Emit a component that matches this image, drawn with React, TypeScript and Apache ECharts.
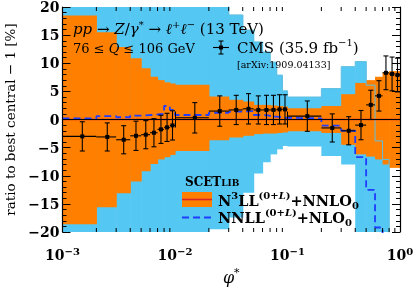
import React, { useEffect, useRef } from "react";
import * as echarts from "echarts";

// ---- data ----
const binEdges = [0.001, 0.002, 0.003, 0.004, 0.005, 0.006, 0.007, 0.008, 0.009, 0.01, 0.02, 0.03, 0.04, 0.05, 0.06, 0.07, 0.08, 0.09, 0.1, 0.2, 0.3, 0.4, 0.5, 0.6, 0.7, 0.8, 0.9, 1.0];
const cmsPhi = [0.0015, 0.0025, 0.0035, 0.0045, 0.0055, 0.0065, 0.0075, 0.0085, 0.0095, 0.015, 0.025, 0.035, 0.045, 0.055, 0.065, 0.075, 0.085, 0.095, 0.15, 0.25, 0.35, 0.45, 0.55, 0.65, 0.75, 0.85, 0.95];
const cmsRatio = [-3.0, -3.1, -3.6, -2.9, -2.7, -2.35, -1.75, -1.4, -1.05, 0.3, 1.5, 1.7, 1.9, 1.7, 1.7, 1.7, 1.8, 1.8, 0.6, -1.5, -2.0, -1.0, 2.6, 4.2, 8.3, 8.1, 7.9];
const cmsErr = [2.6, 2.5, 2.5, 2.6, 2.5, 2.5, 2.5, 2.5, 2.6, 2.7, 2.7, 2.6, 2.7, 2.5, 2.6, 2.6, 2.6, 2.6, 2.7, 2.5, 2.5, 2.6, 2.6, 2.7, 3.0, 3.0, 3.0];
const n3llHigh = [18.5, 15.5, 12.9, 10.9, 9.1, 7.6, 7.0, 6.6, 6.4, 6.2, 4.1, 3.5, 3.2, 2.6, 2.6, 2.5, 2.4, 2.3, 2.0, 2.4, 4.5, 6.5, 7.0, 7.6, 8.4, 8.6, 8.6];
const n3llLow = [-18.6, -15.6, -13.1, -11.0, -9.2, -7.9, -7.1, -6.7, -6.3, -5.6, -3.7, -3.2, -2.9, -2.6, -2.5, -2.5, -2.4, -2.3, -2.1, -2.4, -4.5, -6.2, -6.6, -7.1, -8.0, -8.6, -8.6];
const nnllHigh = [25, 25, 25, 25, 25, 25, 25, 25, 25, 25, 25, 18.6, 15.9, 13.8, 12.0, 10.2, 7.9, 5.1, 4.0, 5.5, 9.4, 10.3, 6.1, -3.8, -7.1, -30, -30];
const nnllLow = [-25, -25, -25, -25, -25, -25, -25, -25, -25, -25, -19.5, -17.4, -13.0, -9.6, -7.6, -6.2, -5.3, -4.7, -4.8, -6.5, -8.0, -25, -25, -25, -25, -40, -40];
const nnllCentral = [0.2, 0.6, 0.4, 0.7, 0.8, 0.9, 1.0, 2.4, 1.7, 0.8, 1.2, 1.4, 1.5, 0.8, 0.7, 0.5, 0.4, 0.3, 0.2, -1.1, -2.0, -6.7, -12.5, -19.2, -25, -25, -25];
const n3llCentral = [0, 0, 0, 0, 0, 0, 0, 0, 0, 0, 0, 0, 0, 0, 0, 0, 0, 0, 0, 0, 0, 0, 0, 0, 0, 0, 0];
const xMinorTicks = [0.002, 0.003, 0.004, 0.005, 0.006, 0.007, 0.008, 0.009, 0.02, 0.03, 0.04, 0.05, 0.06, 0.07, 0.08, 0.09, 0.2, 0.3, 0.4, 0.5, 0.6, 0.7, 0.8, 0.9];

const ORANGE = "#ff8000";
const SKY = "#55c7f3";
const RED = "#d62728";
const BLUE = "#1f3cff";
const serif = "'DejaVu Serif', serif";

function stepData(values: number[]) {
  return binEdges.map((e, i) => [e, values[Math.min(i, values.length - 1)]]);
}

function bandRows(lo: number[], hi: number[]) {
  return lo.map((l, i) => [binEdges[i], binEdges[i + 1], l, hi[i]]);
}

function bandRender(color: string) {
  return (params: any, api: any) => {
    const cs = params.coordSys;
    const p0 = api.coord([api.value(0), api.value(3)]);
    const p1 = api.coord([api.value(1), api.value(2)]);
    const top = Math.max(p0[1], cs.y);
    const bot = Math.min(p1[1], cs.y + cs.height);
    if (bot <= top) return null;
    const x0 = p0[0];
    const x1 = Math.min(p1[0] + 0.6, cs.x + cs.width);
    return {
      type: "rect",
      shape: { x: x0, y: top, width: x1 - x0, height: bot - top },
      style: { fill: color },
    };
  };
}

export default function App() {
  const ref = useRef<HTMLDivElement>(null);
  useEffect(() => {
    const chart = echarts.init(ref.current!, null, { renderer: "svg" });

    const supRich = {
      n: { fontFamily: serif, fontSize: 15, lineHeight: 20, verticalAlign: "middle", color: "#000" },
      i: { fontFamily: serif, fontSize: 15, fontStyle: "italic", lineHeight: 20, verticalAlign: "middle", color: "#000" },
      s: { fontFamily: serif, fontSize: 10, lineHeight: 11, verticalAlign: "top", color: "#000" },
    };
    const boldRich = {
      b: { fontFamily: serif, fontSize: 14.5, fontWeight: "bold", lineHeight: 20, verticalAlign: "middle", color: "#000" },
      s: { fontFamily: serif, fontSize: 10, fontWeight: "bold", lineHeight: 10, verticalAlign: "top", color: "#000" },
      si: { fontFamily: serif, fontSize: 10, fontWeight: "bold", fontStyle: "italic", lineHeight: 10, verticalAlign: "top", color: "#000" },
      d: { fontFamily: serif, fontSize: 10, fontWeight: "bold", lineHeight: 11, verticalAlign: "bottom", color: "#000" },
    };

    const option: any = {
      animation: false,
      grid: { left: 62.5, right: 15, top: 7, bottom: 56, show: false, containLabel: false, outerBoundsMode: "none" },
      xAxis: [
        {
          type: "log", logBase: 10, min: 0.001, max: 1, position: "bottom", z: 10,
          axisLine: { show: true, lineStyle: { color: "#000", width: 1.2 } },
          axisTick: { show: true, inside: true, length: 8, lineStyle: { color: "#000", width: 1 } },
          splitLine: { show: false },
          axisLabel: {
            margin: 14,
            formatter: (v: number) => {
              const e = Math.round(Math.log10(v));
              return "{b|10}{s|" + String(e).replace("-", "−") + "}";
            },
            rich: {
              b: { fontFamily: serif, fontSize: 14, fontWeight: "bold", lineHeight: 18, verticalAlign: "middle", color: "#000" },
              s: { fontFamily: serif, fontSize: 10, fontWeight: "bold", lineHeight: 11, verticalAlign: "top", color: "#000" },
            },
          },
          name: "{i|φ}{s|*}",
          nameLocation: "middle",
          nameGap: 35,
          nameTextStyle: {
            rich: {
              i: { fontFamily: serif, fontSize: 16, fontStyle: "italic", lineHeight: 20, verticalAlign: "middle", color: "#000" },
              s: { fontFamily: serif, fontSize: 11, lineHeight: 12, verticalAlign: "top", color: "#000" },
            },
          },
        },
        {
          type: "log", logBase: 10, min: 0.001, max: 1, position: "top", z: 10,
          axisLine: { show: true, lineStyle: { color: "#000", width: 1.2 } },
          axisTick: { show: true, inside: true, length: 8, lineStyle: { color: "#000", width: 1 } },
          axisLabel: { show: false },
          splitLine: { show: false },
        },
      ],
      yAxis: [
        {
          type: "value", min: -20, max: 20, interval: 5, position: "left", z: 10,
          axisLine: { show: true, lineStyle: { color: "#000", width: 1.2 } },
          axisTick: { show: true, inside: true, length: 8, lineStyle: { color: "#000", width: 1 } },
          minorTick: { show: true, splitNumber: 5, length: 4, lineStyle: { color: "#000", width: 1 } },
          splitLine: { show: false },
          minorSplitLine: { show: false },
          axisLabel: {
            margin: 3,
            fontFamily: serif, fontSize: 14, fontWeight: "bold", color: "#000",
            formatter: (v: number) => String(v).replace("-", "−"),
          },
          name: "ratio to best central − 1 [%]",
          nameLocation: "middle",
          nameGap: 46,
          nameRotate: 90,
          nameTextStyle: { fontFamily: serif, fontSize: 13.5, color: "#000" },
        },
        {
          type: "value", min: -20, max: 20, interval: 5, position: "right", z: 10,
          axisLine: { show: true, lineStyle: { color: "#000", width: 1.2 } },
          axisTick: { show: true, inside: true, length: 8, lineStyle: { color: "#000", width: 1 } },
          minorTick: { show: true, splitNumber: 5, length: 4, lineStyle: { color: "#000", width: 1 } },
          splitLine: { show: false },
          minorSplitLine: { show: false },
          axisLabel: { show: false },
        },
      ],
      series: [
        {
          type: "custom", name: "NNLL band", z: 1,
          data: bandRows(nnllLow, nnllHigh),
          encode: { x: [0, 1], y: [2, 3] },
          renderItem: bandRender(SKY),
          silent: true,
        },
        {
          type: "custom", name: "N3LL band", z: 2,
          data: bandRows(n3llLow, n3llHigh),
          encode: { x: [0, 1], y: [2, 3] },
          renderItem: bandRender(ORANGE),
          silent: true,
        },
        {
          type: "line", name: "NNLL edge", z: 3, step: "end", symbol: "none",
          data: stepData(nnllHigh),
          lineStyle: { color: "#62bfe0", width: 1 },
          clip: true, silent: true,
        },
        {
          type: "line", name: "N3LL", z: 4, step: "end", symbol: "none",
          data: stepData(n3llCentral),
          lineStyle: { color: RED, width: 1.6 },
          clip: true, silent: true,
        },
        {
          type: "line", name: "NNLL", z: 5, step: "end", symbol: "none",
          data: stepData(nnllCentral),
          lineStyle: { color: BLUE, width: 1.8, type: [7, 4] },
          clip: true, silent: true,
        },
        {
          type: "custom", name: "CMS", z: 6,
          data: cmsPhi.map((x, i) => [x, cmsRatio[i], cmsErr[i], binEdges[i], binEdges[i + 1]]),
          encode: { x: 0, y: 1 },
          renderItem: (params: any, api: any) => {
            const x = api.value(0), y = api.value(1), e = api.value(2);
            const c = api.coord([x, y]);
            const l = api.coord([api.value(3), y]);
            const r = api.coord([api.value(4), y]);
            const t = api.coord([x, y + e]);
            const b = api.coord([x, y - e]);
            const st = { stroke: "#000", lineWidth: 1.1 };
            return {
              type: "group",
              children: [
                { type: "line", shape: { x1: l[0], y1: c[1], x2: r[0], y2: c[1] }, style: st },
                { type: "line", shape: { x1: c[0], y1: t[1], x2: c[0], y2: b[1] }, style: st },
                { type: "line", shape: { x1: c[0] - 2.5, y1: t[1], x2: c[0] + 2.5, y2: t[1] }, style: st },
                { type: "line", shape: { x1: c[0] - 2.5, y1: b[1], x2: c[0] + 2.5, y2: b[1] }, style: st },
                { type: "rect", shape: { x: c[0] - 2, y: c[1] - 2, width: 4, height: 4 }, style: { fill: "#000" } },
              ],
            };
          },
          silent: true,
        },
        {
          type: "custom", name: "xminor", z: 11,
          data: xMinorTicks.map((v) => [v, 0]),
          encode: { x: 0, y: 1 },
          renderItem: (params: any, api: any) => {
            const cs = params.coordSys;
            const px = api.coord([api.value(0), 0])[0];
            const st = { stroke: "#000", lineWidth: 1 };
            return {
              type: "group",
              children: [
                { type: "line", shape: { x1: px, y1: cs.y + cs.height, x2: px, y2: cs.y + cs.height - 4 }, style: st },
                { type: "line", shape: { x1: px, y1: cs.y, x2: px, y2: cs.y + 4 }, style: st },
              ],
            };
          },
          silent: true,
        },
      ],
      graphic: [
        {
          type: "text", x: 73, y: 29, z: 20,
          style: {
            text: "{i|pp}{n| → }{i|Z}{n|/}{i|γ}{s|*}{n| → }{i|ℓ}{s|+}{i|ℓ}{s|−}{n| (13 TeV)}",
            rich: supRich, verticalAlign: "middle",
          },
        },
        {
          type: "text", x: 73, y: 48, z: 20,
          style: {
            text: "{n|76 ≤ }{i|Q}{n| ≤ 106 GeV}",
            rich: {
              n: { fontFamily: serif, fontSize: 13, lineHeight: 16, verticalAlign: "middle", color: "#000" },
              i: { fontFamily: serif, fontSize: 13, fontStyle: "italic", lineHeight: 16, verticalAlign: "middle", color: "#000" },
            },
            verticalAlign: "middle",
          },
        },
        // CMS legend symbol
        { type: "line", z: 20, shape: { x1: 213, y1: 47.5, x2: 229, y2: 47.5 }, style: { stroke: "#000", lineWidth: 1.1 } },
        { type: "line", z: 20, shape: { x1: 221, y1: 41, x2: 221, y2: 54 }, style: { stroke: "#000", lineWidth: 1.1 } },
        { type: "line", z: 20, shape: { x1: 218.5, y1: 41, x2: 223.5, y2: 41 }, style: { stroke: "#000", lineWidth: 1.1 } },
        { type: "line", z: 20, shape: { x1: 218.5, y1: 54, x2: 223.5, y2: 54 }, style: { stroke: "#000", lineWidth: 1.1 } },
        { type: "rect", z: 20, shape: { x: 219, y: 45.5, width: 4, height: 4 }, style: { fill: "#000" } },
        {
          type: "text", x: 237, y: 47.5, z: 20,
          style: { text: "{n|CMS (35.9 fb}{s|−1}{n|)}", rich: supRich, verticalAlign: "middle" },
        },
        {
          type: "text", x: 237, y: 64, z: 20,
          style: { text: "[arXiv:1909.04133]", fontFamily: serif, fontSize: 9.5, fill: "#000", verticalAlign: "middle" },
        },
        // SCETlib legend
        {
          type: "text", x: 185, y: 181, z: 20,
          style: {
            text: "{a|SCET}{b|LIB}",
            rich: {
              a: { fontFamily: serif, fontSize: 12, fontWeight: "bold", lineHeight: 13, verticalAlign: "bottom", color: "#000" },
              b: { fontFamily: serif, fontSize: 9, fontWeight: "bold", lineHeight: 10.5, verticalAlign: "bottom", color: "#000" },
            },
            verticalAlign: "middle",
          },
        },
        { type: "rect", z: 20, shape: { x: 182, y: 192, width: 30, height: 15 }, style: { fill: ORANGE } },
        { type: "line", z: 21, shape: { x1: 182, y1: 199.5, x2: 212, y2: 199.5 }, style: { stroke: RED, lineWidth: 1.6 } },
        {
          type: "text", x: 218, y: 200, z: 20,
          style: { text: "{b|N}{s|3}{b|LL}{s|(0+}{si|L}{s|)}{b|+NNLO}{d|0}", rich: boldRich, verticalAlign: "middle" },
        },
        { type: "line", z: 20, shape: { x1: 182, y1: 217.5, x2: 212, y2: 217.5 }, style: { stroke: BLUE, lineWidth: 1.8, lineDash: [7, 4] } },
        {
          type: "text", x: 218, y: 217.5, z: 20,
          style: { text: "{b|NNLL}{s|(0+}{si|L}{s|)}{b|+NLO}{d|0}", rich: boldRich, verticalAlign: "middle" },
        },
      ],
    };

    chart.setOption(option);
    return () => chart.dispose();
  }, []);
  return <div ref={ref} style={{ position: "fixed", left: 0, top: 0, width: 415, height: 288 }} />;
}
